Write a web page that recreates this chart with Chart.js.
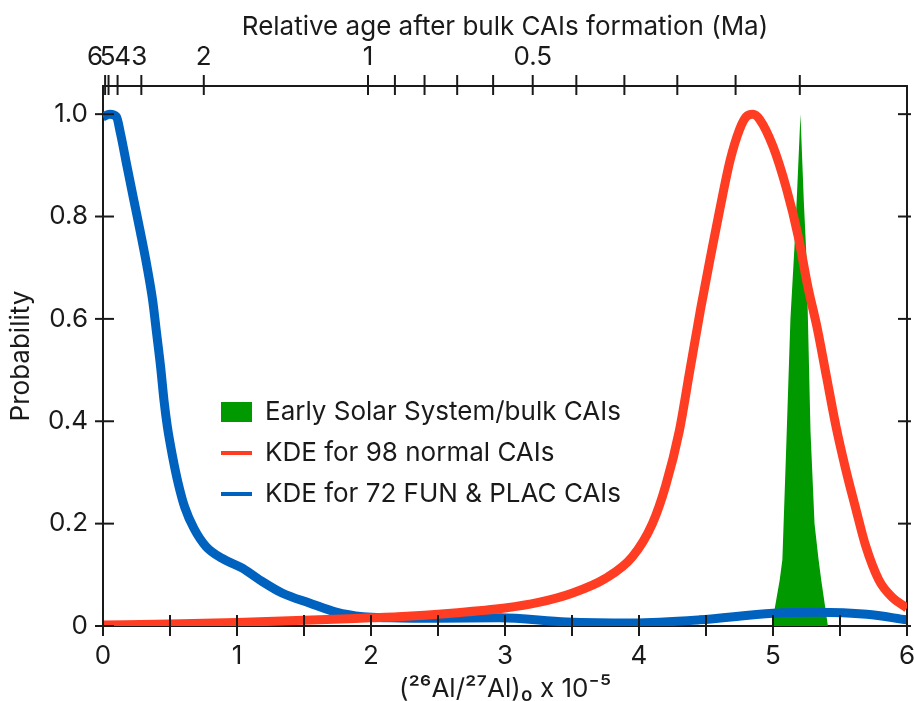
<!DOCTYPE html>
<html>
<head>
<meta charset="utf-8">
<script src="https://cdn.jsdelivr.net/npm/chart.js@4.4.1/dist/chart.umd.min.js"></script>
<style>
  html, body { margin: 0; padding: 0; background: #fff; }
  #wrap { width: 914px; height: 701px; }
</style>
</head>
<body>
<div id="wrap"><canvas id="myChart" width="914" height="701"></canvas></div>
<script>
// (26Al/27Al)0 x 10^-5 positions and normalised probabilities
var greenX = [4.99, 5.05, 5.07, 5.10, 5.13, 5.16, 5.18, 5.205, 5.23, 5.25, 5.28, 5.31, 5.34, 5.36, 5.41];
var greenY = [0, 0.09, 0.13, 0.36, 0.60, 0.74, 0.85, 1.0, 0.83, 0.72, 0.38, 0.20, 0.13, 0.09, 0];

var redX = [0, 0.5, 1.0, 1.5, 2.0, 2.2, 2.6, 3.0, 3.25, 3.5, 3.75, 3.95, 4.1, 4.2, 4.3, 4.38, 4.46, 4.54, 4.6, 4.68,
            4.75, 4.8, 4.85, 4.9, 5.0, 5.1, 5.19, 5.26, 5.33, 5.4, 5.47, 5.54, 5.62, 5.69, 5.79, 5.89, 6.0];
var redY = [0.002, 0.004, 0.007, 0.011, 0.016, 0.018, 0.025, 0.035, 0.046, 0.064, 0.093, 0.135, 0.2, 0.275, 0.38, 0.5,
            0.62, 0.73, 0.81, 0.91, 0.97, 0.995, 1.0, 0.99, 0.937, 0.855, 0.759, 0.663, 0.582, 0.486, 0.39, 0.309,
            0.227, 0.158, 0.09, 0.056, 0.035];

var blueX = [0, 0.05, 0.1, 0.13, 0.18, 0.23, 0.28, 0.33, 0.37, 0.40, 0.43, 0.455, 0.48, 0.52, 0.56, 0.61, 0.68, 0.77,
             0.89, 1.04, 1.17, 1.34, 1.54, 1.74, 1.94, 2.14, 2.5, 2.96, 3.46, 3.95, 4.45, 5.0, 5.33, 5.7, 6.0];
var blueY = [0.995, 1.0, 0.995, 0.963, 0.897, 0.832, 0.768, 0.70, 0.637, 0.572, 0.506, 0.441, 0.39, 0.33, 0.28, 0.232,
             0.19, 0.155, 0.132, 0.113, 0.09, 0.064, 0.045, 0.027, 0.018, 0.016, 0.015, 0.016, 0.008, 0.006, 0.012,
             0.025, 0.027, 0.023, 0.012];

var seriesLabels = ['Early Solar System/bulk CAIs', 'KDE for 98 normal CAIs', 'KDE for 72 FUN & PLAC CAIs'];

var yTicks = [0, 0.2, 0.4, 0.6, 0.8, 1.0];
var yTickLabels = ['0', '0.2', '0.4', '0.6', '0.8', '1.0'];
var xTicks = [0, 0.5, 1, 1.5, 2, 2.5, 3, 3.5, 4, 4.5, 5, 5.5, 6];
var xTickLabels = ['0', '', '1', '', '2', '', '3', '', '4', '', '5', '', '6'];

// top axis: relative age (Ma) mapped onto the ratio axis
var ageTicks = [6, 5, 4, 3, 2, 1, 0.9, 0.8, 0.7, 0.6, 0.5, 0.4, 0.3, 0.2, 0.1, 0];
var ageLabels = ['6', '5', '4', '3', '2', '1', '', '', '', '', '0.5', '', '', '', '', ''];
var ratioAtZero = 5.2;
var halfLife = 0.717;

function ageToRatio(t) {
    return ratioAtZero * Math.pow(2, -t / halfLife);
}

function toPoints(xs, ys) {
    return xs.map(function (x, i) { return { x: x, y: ys[i] }; });
}

var FONT = 'Inter, "Noto Sans", sans-serif';
var FS = 26;
var INK = '#1a1a1a';

// tick marks that cross the frame, like the original plot
var crossTicks = {
    id: 'crossTicks',
    afterDraw: function (chart) {
        var ctx = chart.ctx, a = chart.chartArea, s = chart.scales;
        ctx.save();
        ctx.strokeStyle = INK;
        ctx.lineWidth = 2;
        function seg(x1, y1, x2, y2) {
            ctx.beginPath(); ctx.moveTo(x1, y1); ctx.lineTo(x2, y2); ctx.stroke();
        }
        xTicks.forEach(function (v) {
            var px = s.x.getPixelForValue(v);
            seg(px, a.bottom - 11, px, a.bottom + 10);
        });
        yTicks.forEach(function (v) {
            var py = s.y.getPixelForValue(v);
            seg(a.left - 8, py, a.left + 11, py);
            seg(a.right - 9, py, a.right + 4, py);
        });
        ageTicks.forEach(function (t) {
            var px = s.x2.getPixelForValue(ageToRatio(t));
            seg(px, a.top - 11, px, a.top + 9);
        });
        // top labels (the crowded 6,5,4,3 are spread out as in the original)
        var shift = { '6': -10, '5': -1, '4': 5, '3': -2 };
        ctx.fillStyle = INK;
        ctx.font = FS + 'px ' + FONT;
        ctx.textAlign = 'center';
        ctx.textBaseline = 'middle';
        ageTicks.forEach(function (t, i) {
            var lab = ageLabels[i];
            if (!lab) return;
            var px = s.x2.getPixelForValue(ageToRatio(t)) + (shift[lab] || 0);
            ctx.fillText(lab, px, a.top - 29);
        });
        ctx.restore();
    }
};

// legend drawn inside the plot area
var innerLegend = {
    id: 'innerLegend',
    afterDraw: function (chart) {
        var ctx = chart.ctx, a = chart.chartArea;
        var x0 = a.left + 118, y0 = a.top + 326, row = 41;
        ctx.save();
        ctx.font = FS + 'px ' + FONT;
        ctx.textBaseline = 'middle';
        ctx.textAlign = 'left';
        chart.data.datasets.forEach(function (ds, i) {
            var y = y0 + i * row;
            if (ds.fill) {
                ctx.fillStyle = ds.backgroundColor;
                ctx.fillRect(x0, y - 10, 31, 20);
            } else {
                ctx.strokeStyle = ds.borderColor;
                ctx.lineWidth = 4;
                ctx.beginPath(); ctx.moveTo(x0, y); ctx.lineTo(x0 + 31, y); ctx.stroke();
            }
            ctx.fillStyle = INK;
            ctx.fillText(ds.label, x0 + 44, y);
        });
        ctx.restore();
    }
};

var ctx = document.getElementById('myChart').getContext('2d');

new Chart(ctx, {
    type: 'line',
    data: {
        datasets: [
            {
                label: seriesLabels[0],
                data: toPoints(greenX, greenY),
                backgroundColor: '#009a00',
                borderColor: '#009a00',
                borderWidth: 0,
                fill: 'origin',
                pointRadius: 0,
                tension: 0,
                order: 3
            },
            {
                label: seriesLabels[1],
                data: toPoints(redX, redY),
                borderColor: '#ff3d22',
                borderWidth: 9,
                fill: false,
                pointRadius: 0,
                cubicInterpolationMode: 'monotone',
                order: 1
            },
            {
                label: seriesLabels[2],
                data: toPoints(blueX, blueY),
                borderColor: '#0062bf',
                borderWidth: 9,
                fill: false,
                pointRadius: 0,
                cubicInterpolationMode: 'monotone',
                order: 2
            }
        ]
    },
    options: {
        responsive: false,
        animation: false,
        layout: { padding: 0 },
        plugins: {
            legend: { display: false },
            tooltip: { enabled: false }
        },
        scales: {
            x: {
                type: 'linear',
                position: 'bottom',
                min: 0,
                max: 6,
                afterBuildTicks: function (scale) {
                    scale.ticks = xTicks.map(function (v) { return { value: v }; });
                },
                afterFit: function (scale) {
                    scale.height = 75;
                    scale.paddingLeft = 0;
                    scale.paddingRight = 0;
                },
                grid: { display: false, drawTicks: false },
                border: { display: true, color: INK, width: 2 },
                ticks: {
                    padding: 15,
                    autoSkip: false,
                    maxRotation: 0,
                    color: INK,
                    font: { family: FONT, size: FS },
                    callback: function (v, i) { return xTickLabels[i]; }
                },
                title: {
                    display: true,
                    text: '(²⁶Al/²⁷Al)₀ x 10⁻⁵',
                    color: INK,
                    font: { family: FONT, size: FS },
                    padding: { top: 0, bottom: -4 }
                }
            },
            x2: {
                type: 'linear',
                position: 'top',
                min: 0,
                max: 6,
                afterBuildTicks: function (scale) {
                    scale.ticks = ageTicks.map(function (t) { return { value: ageToRatio(t) }; });
                },
                afterFit: function (scale) {
                    scale.height = 86;
                    scale.paddingLeft = 0;
                    scale.paddingRight = 0;
                },
                grid: { display: false, drawTicks: false },
                border: { display: true, color: INK, width: 2 },
                ticks: { display: false },
                title: {
                    display: true,
                    text: 'Relative age after bulk CAIs formation (Ma)',
                    color: INK,
                    font: { family: FONT, size: FS },
                    padding: { top: 12, bottom: 0 }
                }
            },
            y: {
                type: 'linear',
                position: 'left',
                min: 0,
                max: 1.055,
                afterBuildTicks: function (scale) {
                    scale.ticks = yTicks.map(function (v) { return { value: v }; });
                },
                afterFit: function (scale) {
                    scale.width = 103;
                    scale.paddingTop = 0;
                    scale.paddingBottom = 0;
                },
                grid: { display: false, drawTicks: false },
                border: { display: true, color: INK, width: 2 },
                ticks: {
                    padding: 15,
                    color: INK,
                    font: { family: FONT, size: FS },
                    callback: function (v, i) { return yTickLabels[i]; }
                },
                title: {
                    display: true,
                    text: 'Probability',
                    color: INK,
                    font: { family: FONT, size: FS },
                    padding: { top: 6, bottom: 0 }
                }
            },
            y2: {
                type: 'linear',
                position: 'right',
                min: 0,
                max: 1.055,
                afterBuildTicks: function (scale) {
                    scale.ticks = yTicks.map(function (v) { return { value: v }; });
                },
                afterFit: function (scale) {
                    scale.width = 7;
                    scale.paddingTop = 0;
                    scale.paddingBottom = 0;
                },
                grid: { display: false, drawTicks: false },
                border: { display: true, color: INK, width: 2 },
                ticks: { display: false }
            }
        }
    },
    plugins: [crossTicks, innerLegend]
});
</script>
</body>
</html>
